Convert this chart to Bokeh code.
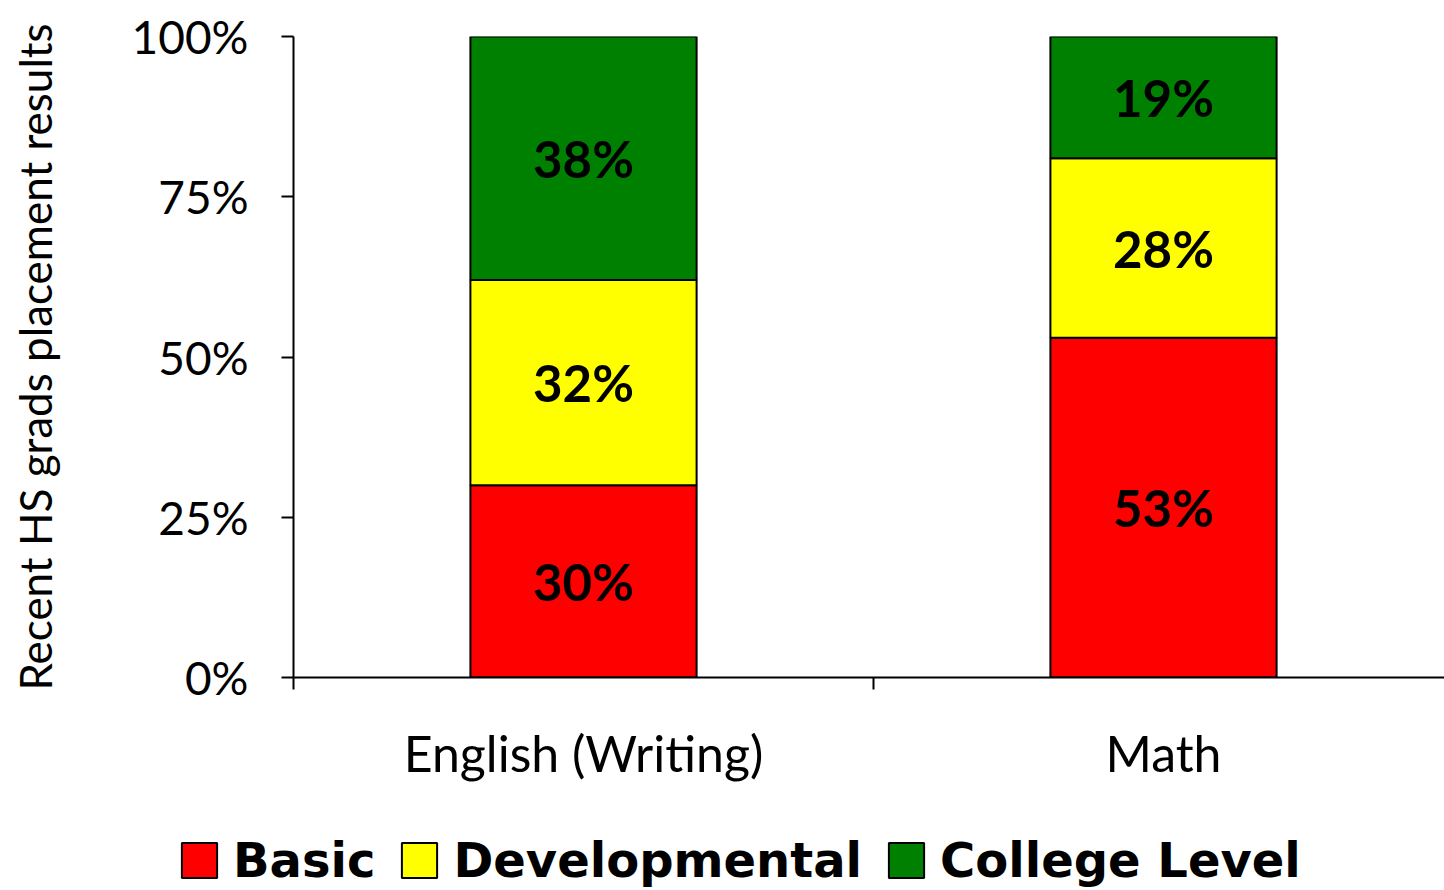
from bokeh.plotting import figure
from bokeh.layouts import column
from bokeh.models import ColumnDataSource, FixedTicker, PrintfTickFormatter, Range1d, Legend
from bokeh.core.properties import value
from bokeh.embed import file_html
from bokeh.resources import INLINE

categories = ["English (Writing)", "Math"]
series = ["Basic", "Developmental", "College Level"]
basic = [30, 53]
developmental = [32, 28]
college = [38, 19]
colors = ["#FF0000", "#FFFF00", "#008000"]
y_ticks = [0, 25, 50, 75, 100]

FONT = "Lato"

xs = [i + 0.5 for i in range(len(categories))]
src = ColumnDataSource(dict(x=xs, basic=basic, developmental=developmental, college=college))

FW = 1151
p = figure(frame_width=FW, frame_height=641, min_border_left=293, min_border_top=36,
           min_border_bottom=150, min_border_right=0,
           x_range=Range1d(0, FW / 580), y_range=Range1d(0, 100),
           output_backend="svg", toolbar_location=None)
p.outline_line_color = None
p.xgrid.grid_line_color = None
p.ygrid.grid_line_color = None

renderers = p.vbar_stack(["basic", "developmental", "college"], x="x", width=0.39, source=src,
                         fill_color=colors, line_color="black", line_width=2)

# labels at segment midpoints
lx, ly, lt = [], [], []
for i in range(len(categories)):
    base = 0
    for vals in (basic, developmental, college):
        v = vals[i]
        lx.append(xs[i])
        ly.append(base + v / 2)
        lt.append(f"{v}%")
        base += v
p.text(x=lx, y=ly, text=lt, text_align="center", text_baseline="middle",
       text_font=value(FONT), text_font_style="bold", text_font_size="51px", text_color="black")

# x axis
xa = p.xaxis[0]
xa.ticker = FixedTicker(ticks=xs, minor_ticks=[0, 1, 2])
xa.major_label_overrides = {x: c for x, c in zip(xs, categories)}
xa.major_tick_out = 0
xa.major_tick_in = 0
xa.minor_tick_out = 12
xa.minor_tick_in = 0
xa.minor_tick_line_color = "black"
xa.minor_tick_line_width = 2
xa.axis_line_width = 2
xa.axis_line_color = "black"
xa.major_label_text_font = FONT
xa.major_label_text_font_size = "50px"
xa.major_label_text_color = "black"
xa.major_label_standoff = 33

# y axis
ya = p.yaxis[0]
ya.ticker = FixedTicker(ticks=y_ticks, minor_ticks=[])
ya.formatter = PrintfTickFormatter(format="%d%%")
ya.major_tick_out = 12
ya.major_tick_in = 0
ya.major_tick_line_width = 2
ya.major_tick_line_color = "black"
ya.axis_line_width = 2
ya.axis_line_color = "black"
ya.major_label_text_font = FONT
ya.major_label_text_font_size = "46px"
ya.major_label_text_color = "black"
ya.major_label_standoff = 33
ya.axis_label = "Recent HS grads placement results"
ya.axis_label_text_font = FONT
ya.axis_label_text_font_style = "normal"
ya.axis_label_text_font_size = "44px"
ya.axis_label_text_color = "black"
ya.axis_label_standoff = 68

# legend strip below the chart
LW = 293 + FW
p2 = figure(frame_width=LW, frame_height=62, min_border=0,
            x_range=Range1d(0, 1), y_range=Range1d(0, 1),
            output_backend="svg", toolbar_location=None)
p2.axis.visible = False
p2.grid.visible = False
p2.outline_line_color = None
items = []
for s, c, vals in zip(series, colors, (basic, developmental, college)):
    r = p2.vbar(x=xs, top=vals, width=0.1, fill_color=c, line_color="black", line_width=2)
    r.visible = False
    items.append((s, [r]))
lg = Legend(items=items, orientation="horizontal", location=(177, 1))
lg.border_line_color = None
lg.background_fill_alpha = 0
lg.inactive_fill_alpha = 0
lg.padding = 0
lg.margin = 0
lg.spacing = 22
lg.glyph_width = 44
lg.glyph_height = 44
lg.label_standoff = 12
lg.label_text_font = "DejaVu Sans"
lg.label_text_font_style = "bold"
lg.label_text_font_size = "48px"
lg.label_text_color = "black"
p2.add_layout(lg, "center")

layout = column(p, p2, spacing=0)
open("out.html", "w").write(file_html(layout, INLINE))
